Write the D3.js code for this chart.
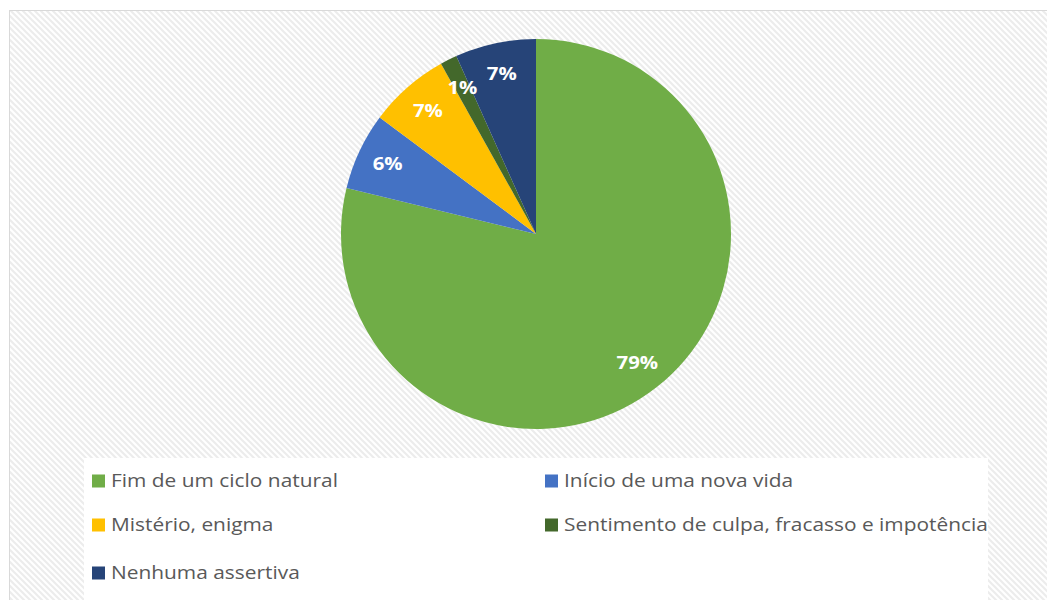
<!DOCTYPE html>
<html>
<head>
<meta charset="utf-8">
<script src="https://cdn.jsdelivr.net/npm/d3@7"></script>
<style>
  body { margin: 0; background: #fff; }
</style>
</head>
<body>
<div id="pie_chart"></div>
<script>
var categories = ["Fim de um ciclo natural", "Início de uma nova vida", "Mistério, enigma",
  "Sentimento de culpa, fracasso e impotência", "Nenhuma assertiva"];
var values = [78.8, 6.4, 6.7, 1.4, 6.7];
var colors = ["#70AD47", "#4472C4", "#FFC000", "#43682B", "#264478"];

var width = 1047, height = 600;
var cx = 536, cy = 234, radius = 195;
var stretch = 1.13; // the original text is slightly wider than Open Sans

var svg = d3.select("#pie_chart")
  .append("svg")
  .attr("width", width)
  .attr("height", height);

// hatched background
var defs = svg.append("defs");
var pat = defs.append("pattern")
  .attr("id", "hatch")
  .attr("patternUnits", "userSpaceOnUse")
  .attr("width", 6)
  .attr("height", 6);
pat.append("rect").attr("width", 6).attr("height", 6).attr("fill", "#ffffff");
pat.append("path")
  .attr("d", "M-1,-1 L7,7 M-7,-1 L1,7 M5,-1 L13,7")
  .attr("stroke", "#ececec")
  .attr("stroke-width", 2);

svg.append("rect")
  .attr("x", 9.5).attr("y", 10.5)
  .attr("width", width).attr("height", height)
  .attr("fill", "url(#hatch)")
  .attr("stroke", "#d9d9d9")
  .attr("stroke-width", 1);

// legend box
svg.append("rect")
  .attr("x", 84).attr("y", 458)
  .attr("width", 904).attr("height", 150)
  .attr("fill", "#ffffff");

var pie = d3.pie().sort(null).value(d => d);
var arc = d3.arc().innerRadius(0).outerRadius(radius);
var labelArc = d3.arc().innerRadius(164).outerRadius(164);

var g = svg.append("g")
  .attr("transform", "translate(" + cx + "," + cy + ")");

var arcs = pie(values);

g.selectAll("path")
  .data(arcs)
  .join("path")
  .attr("d", arc)
  .attr("fill", (d, i) => colors[i]);

g.selectAll("text")
  .data(arcs)
  .join("text")
  .attr("transform", d => "translate(" + labelArc.centroid(d) + ") scale(" + stretch + ",1)")
  .attr("text-anchor", "middle")
  .attr("dy", "0.35em")
  .attr("fill", "#ffffff")
  .attr("font-family", "'Open Sans', sans-serif")
  .attr("font-weight", "bold")
  .attr("font-size", 18)
  .text(d => Math.round(d.data) + "%");

// legend
var legendPos = [[92, 481], [545, 481], [92, 525], [545, 525], [92, 573]];
var legend = svg.append("g");
var items = legend.selectAll("g")
  .data(categories)
  .join("g")
  .attr("transform", (d, i) => "translate(" + legendPos[i][0] + "," + legendPos[i][1] + ")");

items.append("rect")
  .attr("x", 0).attr("y", -6.5)
  .attr("width", 13).attr("height", 13)
  .attr("fill", (d, i) => colors[i]);

items.append("text")
  .attr("transform", "translate(19,0) scale(" + stretch + ",1)")
  .attr("dy", "0.35em")
  .attr("fill", "#595959")
  .attr("font-family", "'Open Sans', sans-serif")
  .attr("font-size", 18.5)
  .text(d => d);
</script>
</body>
</html>
